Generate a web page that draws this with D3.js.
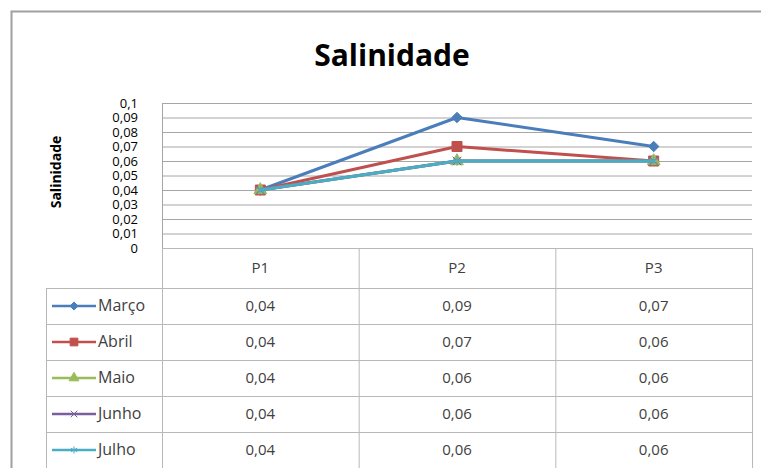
<!DOCTYPE html>
<html>
<head>
<meta charset="utf-8">
<script src="https://cdn.jsdelivr.net/npm/d3@7"></script>
<style>
  body { margin: 0; background: #fff; }
  text { font-family: "Open Sans", sans-serif; }
</style>
</head>
<body>
<svg id="chart" width="761" height="468"></svg>
<script>
// data
var categories = ["P1", "P2", "P3"];
var seriesNames = ["Março", "Abril", "Maio", "Junho", "Julho"];
var marco = [0.04, 0.09, 0.07];
var abril = [0.04, 0.07, 0.06];
var maio = [0.04, 0.06, 0.06];
var junho = [0.04, 0.06, 0.06];
var julho = [0.04, 0.06, 0.06];
var yTicks = [0, 0.01, 0.02, 0.03, 0.04, 0.05, 0.06, 0.07, 0.08, 0.09, 0.1];
var colors = ["#4a7ebb", "#c0504d", "#9bbb59", "#7a5fa0", "#4bacc6"];
var symbols = ["diamond", "square", "triangle", "x", "star"];

var seriesValues = [marco, abril, maio, junho, julho];

var svg = d3.select("#chart");

// frame
svg.append("rect")
    .attr("x", 11.5).attr("y", 11.5)
    .attr("width", 800).attr("height", 500)
    .attr("fill", "#fff")
    .attr("stroke", "#a0a0a0")
    .attr("stroke-width", 2);

var x = d3.scaleBand().domain(categories).range([162, 752]);
var y = d3.scaleLinear().domain([0, 0.1]).range([248, 103]);

function fmt(d) {
    return String(+d.toFixed(2)).replace(".", ",");
}

// title
svg.append("text")
    .attr("x", 392).attr("y", 66)
    .attr("text-anchor", "middle")
    .attr("font-size", 30)
    .attr("font-weight", "bold")
    .attr("fill", "#000")
    .text("Salinidade");

// y axis title
svg.append("text")
    .attr("transform", "translate(61,172) rotate(-90)")
    .attr("text-anchor", "middle")
    .attr("font-size", 14)
    .attr("font-weight", "bold")
    .text("Salinidade");

// grid + tick labels
var yAxis = svg.append("g")
    .attr("transform", "translate(162,0)")
    .call(d3.axisLeft(y).tickValues(yTicks).tickSize(-590).tickPadding(24).tickFormat(fmt));
yAxis.select(".domain").remove();
yAxis.selectAll(".tick line").attr("stroke", "#a6a6a6");
yAxis.selectAll(".tick text")
    .attr("font-family", "'Open Sans', sans-serif")
    .attr("font-size", 13)
    .attr("fill", "#000");

// table
var headerTop = 248, headerH = 40, rowH = 36;
var rowsTop = headerTop + headerH;
var legendLeft = 46;
var tbl = svg.append("g");
var lineColor = "#b8b8b8";

// horizontal lines
tbl.append("line")
    .attr("x1", 162).attr("x2", 752)
    .attr("y1", headerTop + 0.5).attr("y2", headerTop + 0.5)
    .attr("stroke", lineColor);
seriesNames.forEach(function(s, i) {
    tbl.append("line")
        .attr("x1", legendLeft).attr("x2", 752)
        .attr("y1", rowsTop + i * rowH + 0.5).attr("y2", rowsTop + i * rowH + 0.5)
        .attr("stroke", lineColor);
});
// vertical lines
tbl.append("line")
    .attr("x1", legendLeft + 0.5).attr("x2", legendLeft + 0.5)
    .attr("y1", rowsTop).attr("y2", 468)
    .attr("stroke", lineColor);
categories.forEach(function(c) {
    tbl.append("line")
        .attr("x1", x(c) + 0.5).attr("x2", x(c) + 0.5)
        .attr("y1", headerTop).attr("y2", 468)
        .attr("stroke", lineColor);
});
tbl.append("line")
    .attr("x1", 752.5).attr("x2", 752.5)
    .attr("y1", headerTop).attr("y2", 468)
    .attr("stroke", lineColor);
// y axis line
tbl.append("line")
    .attr("x1", 162.5).attr("x2", 162.5)
    .attr("y1", 103).attr("y2", 248)
    .attr("stroke", "#a6a6a6");

// header labels
categories.forEach(function(c) {
    tbl.append("text")
        .attr("x", x(c) + x.bandwidth() / 2)
        .attr("y", headerTop + headerH / 2 + 5)
        .attr("text-anchor", "middle")
        .attr("font-size", 15)
        .attr("fill", "#404040")
        .text(c);
});

function symbolPath(name, size) {
    if (name === "diamond") return d3.symbol().type(d3.symbolDiamond2 || d3.symbolDiamond).size(size)();
    if (name === "square") return d3.symbol().type(d3.symbolSquare).size(size)();
    if (name === "triangle") return d3.symbol().type(d3.symbolTriangle).size(size)();
    if (name === "x") return d3.symbol().type(d3.symbolX || d3.symbolCross).size(size)();
    return d3.symbol().type(d3.symbolAsterisk || d3.symbolStar).size(size)();
}
var symSizes = [70, 100, 70, 50, 60];

// rows
seriesNames.forEach(function(s, i) {
    var cy = rowsTop + i * rowH + rowH / 2;
    tbl.append("line")
        .attr("x1", 52).attr("x2", 96)
        .attr("y1", cy).attr("y2", cy)
        .attr("stroke", colors[i]).attr("stroke-width", 2.5);
    tbl.append("path")
        .attr("d", symbolPath(symbols[i], symSizes[i] * 0.6))
        .attr("transform", "translate(74," + cy + ")")
        .attr("fill", colors[i])
        .attr("stroke", colors[i]);
    tbl.append("text")
        .attr("x", 98).attr("y", cy + 5)
        .attr("font-size", 16)
        .attr("fill", "#404040")
        .text(s);
    categories.forEach(function(c, j) {
        tbl.append("text")
            .attr("x", x(c) + x.bandwidth() / 2)
            .attr("y", cy + 5)
            .attr("text-anchor", "middle")
            .attr("font-size", 15)
            .attr("fill", "#404040")
            .text(fmt(seriesValues[i][j]));
    });
});

// lines and markers
var line = d3.line()
    .x(function(d, j) { return x(categories[j]) + x.bandwidth() / 2; })
    .y(function(d) { return y(d); });

seriesValues.forEach(function(vals, i) {
    var g = svg.append("g");
    g.append("path")
        .datum(vals)
        .attr("d", line)
        .attr("fill", "none")
        .attr("stroke", colors[i])
        .attr("stroke-width", 3)
        .attr("stroke-linejoin", "round");
    g.selectAll("path.m")
        .data(vals)
        .enter().append("path")
        .attr("class", "m")
        .attr("d", symbolPath(symbols[i], symSizes[i]))
        .attr("transform", function(d, j) {
            return "translate(" + (x(categories[j]) + x.bandwidth() / 2) + "," + y(d) + ")";
        })
        .attr("fill", colors[i])
        .attr("stroke", colors[i])
        .attr("stroke-width", 1);
});
</script>
</body>
</html>
